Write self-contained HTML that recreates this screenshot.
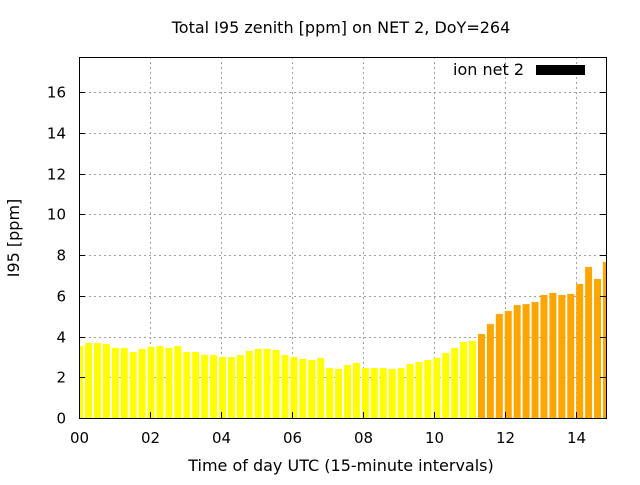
<!DOCTYPE html>
<html><head><meta charset="utf-8"><style>
body{margin:0;background:#fff}
svg text{font-family:"DejaVu Sans","Liberation Sans",sans-serif;fill:#000}
</style></head><body>
<svg width="640" height="480" viewBox="0 0 640 480">
<g id="grid"></g>
<g id="bars"></g>
<rect x="79.5" y="57.5" width="527" height="361" fill="none" stroke="#000" stroke-width="1"/>
<g id="axes"></g>
<text x="341" y="33" text-anchor="middle" font-size="16">Total I95 zenith [ppm] on NET 2, DoY=264</text>
<text x="341" y="471" text-anchor="middle" font-size="16">Time of day UTC (15-minute intervals)</text>
<text transform="translate(19,238) rotate(-90)" text-anchor="middle" font-size="16">I95 [ppm]</text>
<g>
<text x="524" y="75" text-anchor="end" font-size="16">ion net 2</text>
<rect x="536" y="65" width="49" height="10" fill="#000"/>
</g>
</svg>
<script>
const values=[3.53,3.68,3.68,3.63,3.44,3.44,3.24,3.39,3.49,3.53,3.44,3.53,3.24,3.24,3.09,3.09,2.99,2.99,3.09,3.29,3.39,3.39,3.34,3.09,2.99,2.90,2.85,2.95,2.45,2.41,2.60,2.70,2.45,2.45,2.45,2.41,2.45,2.65,2.75,2.85,2.95,3.19,3.44,3.73,3.78,4.12,4.61,5.10,5.25,5.54,5.59,5.69,6.04,6.14,6.04,6.09,6.58,7.41,6.82,7.66];
const orangeFrom=45;
const yTicks=[0,2,4,6,8,10,12,14,16];
const xTickLabels=["00","02","04","06","08","10","12","14"];
const xTickHours=[0,2,4,6,8,10,12,14];
const X0=79,X1=606,Y0=418,Y1=57;
function xs(h){return X0+h*35.5;}
function xb(i){return 79.6+i*8.93;}
function ys(v){return Y0-v*20.375;}
const NS="http://www.w3.org/2000/svg";
function mk(t,a,p){const e=document.createElementNS(NS,t);for(const k in a)e.setAttribute(k,a[k]);p.appendChild(e);return e;}
const grid=document.getElementById('grid'),bars=document.getElementById('bars'),axes=document.getElementById('axes');
yTicks.forEach(v=>{const y=Math.round(ys(v))+0.5;
 if(v>0){const g=mk('line',{x1:X0,x2:X1,y1:y,y2:y,stroke:'#a0a0a0','stroke-dasharray':'2,3'},grid);
 
 }
 const t=mk('line',{x1:X0,x2:X0+6,y1:y,y2:y,stroke:'#000'},axes);
 
 
 const t2=mk('line',{x1:X1-6,x2:X1,y1:y,y2:y,stroke:'#000'},axes);
 
 
 const l=mk('text',{x:66,y:y+5,'text-anchor':'end','font-size':15},axes);l.textContent=v;
 
 });
xTickHours.forEach((h,i)=>{const x=Math.round(xs(h))+0.5;
 if(h>0){const g=mk('line',{x1:x,x2:x,y1:Y1,y2:Y0,stroke:'#a0a0a0','stroke-dasharray':'2,3'},grid);
 
 }
 const t=mk('line',{x1:x,x2:x,y1:Y0-6,y2:Y0,stroke:'#000'},axes);
 
 
 const l=mk('text',{x:x,y:443,'text-anchor':'middle','font-size':15},axes);l.textContent=xTickLabels[i];
 
 });
values.forEach((v,i)=>{const c=xb(i);let l=c-3.5,r=c+3.5;l=Math.max(l,X0+1);r=Math.min(r,X1);
 const b=mk('rect',{x:l,y:ys(v),width:r-l,height:Y0-ys(v),fill:i>=orangeFrom?'#ffa500':'#ffff00'},bars);
 
 });
</script>
</body></html>
